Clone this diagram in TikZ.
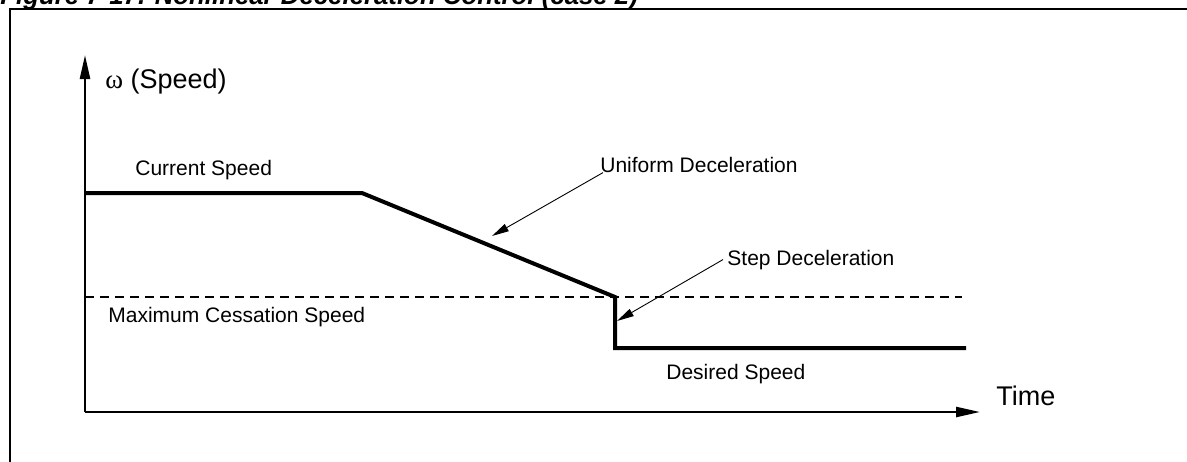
\documentclass[tikz,border=0pt]{standalone}
\usepackage{fontspec}
\setmainfont{Liberation Sans}
\newfontfamily\greekfont{Liberation Serif}
\usetikzlibrary{arrows.meta}
\tikzset{
  lbl/.style={inner sep=0pt, anchor=base west, font=\fontsize{10.5pt}{12pt}\selectfont},
  biglbl/.style={inner sep=0pt, anchor=base west, font=\fontsize{13.5pt}{16pt}\selectfont},
  axis/.style={line width=1.2pt, -{Triangle[length=12pt,width=5pt]}},
  speed/.style={line width=2pt, line join=miter},
  pointer/.style={line width=0.45pt, -{Triangle[length=8.5pt,width=4pt]}},
  frame/.style={line width=1pt},
  level/.style={line width=0.9pt, dash pattern=on 4.5pt off 3pt}
}
\begin{document}
\begin{tikzpicture}[x=0.5pt,y=-0.5pt]
\useasboundingbox (0,0) rectangle (1187,461);
\clip (0,0) rectangle (1187,461);
% title (cut off at top)
\node[inner sep=0pt, anchor=base west, font=\fontsize{12.9pt}{15pt}\selectfont\bfseries\itshape] (title) at (0,4.5) {Figure 7-17. Nonlinear Deceleration Control (case 2)};
% frame
\draw[frame] (10,480) -- (10,9) -- (1200,9);
% axes
\coordinate (o) at (85,412);
\coordinate (ytop) at (85,55);
\coordinate (xend) at (980,412);
\draw[axis] (o) -- (ytop);
\draw[axis] (o) -- (xend);
\node[biglbl] (ylab) at (105,88) {{\greekfont ω} (Speed)};
\node[biglbl] (xlab) at (996,405) {Time};
% dashed level
\coordinate (m0) at (85,297);
\coordinate (m1) at (962,297);
\draw[level] (m0) -- (m1);
% speed profile
\coordinate (c0) at (85,193);
\coordinate (c1) at (362,193);
\coordinate (c2) at (615,297);
\coordinate (c3) at (615,348);
\coordinate (c4) at (966,348);
\draw[speed] (c0) -- (c1) -- (c2) -- (c3) -- (c4);
% labels
\node[lbl] (cur) at (135,175) {Current Speed};
\node[lbl] (uni) at (600,172) {Uniform Deceleration};
\node[lbl] (stp) at (727,265) {Step Deceleration};
\node[lbl] (mcs) at (108,322) {Maximum Cessation Speed};
\node[lbl] (des) at (666,379) {Desired Speed};
% pointers
\coordinate (unitip) at (492,236);
\coordinate (stptip) at (617,321);
\draw[pointer] ([xshift=1.5pt]uni.south west) -- (unitip);
\draw[pointer] ([xshift=-2pt]stp.west) -- (stptip);
\end{tikzpicture}
\end{document}
